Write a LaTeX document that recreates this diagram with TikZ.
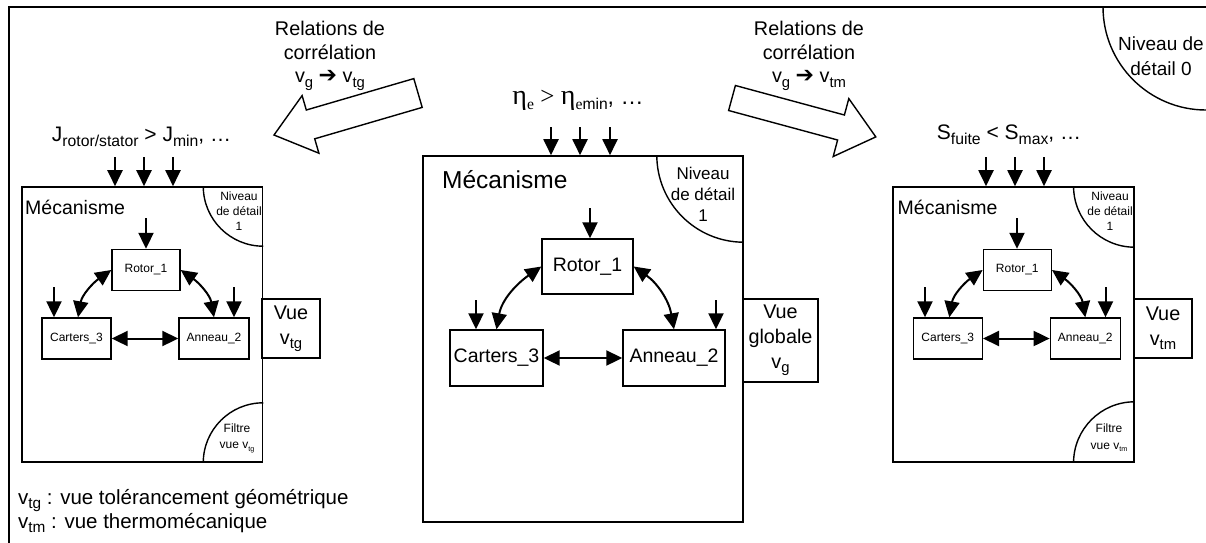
\documentclass[tikz,border=0pt]{standalone}
\usepackage{fontspec}
\setmainfont{Liberation Sans}
\newfontfamily\tms{Liberation Serif}
\newfontfamily\dvs{DejaVu Sans}
\usetikzlibrary{arrows.meta,calc}
\makeatletter
% lowered, reduced text for indices (v_tg, S_max, ...)
\newcommand\dn[2][0.75]{\raisebox{-0.22em}{\fontsize{\fpeval{#1*\f@size}}{0}\selectfont #2}}
\makeatother
\newcommand\fs[2]{\fontsize{#1}{#2}\selectfont}
\newcommand\etaglyph{{\tms\fs{28}{28}η}}
\newcommand\heavyarrow{{\dvs\bfseries\fs{22}{22}➔}}

\begin{document}
\begin{tikzpicture}[x=1pt,y=-1pt,
  frameline/.style={line width=2pt},
  bigbox/.style={draw,line width=1.6pt,inner sep=0pt},
  partbox/.style={draw,line width=1.4pt,inner sep=0pt},
  smallpart/.style={partbox,minimum height=41pt,font=\fs{12}{14}},
  largepart/.style={partbox,minimum height=55pt,font=\fs{19.5}{23}},
  viewbox/.style={draw,line width=1.4pt,inner sep=0pt,align=center,font=\fs{19.8}{25}},
  flow/.style={line width=2pt,-{Triangle[length=16pt,width=15pt]}},
  link/.style={line width=2pt,{Triangle[length=16pt,width=15pt]}-{Triangle[length=16pt,width=15pt]}},
  zone/.style={line width=1.4pt},
  blockarrow/.style={draw,line width=1.4pt,fill=white,line join=miter},
  txt/.style={inner sep=0pt,align=center},
  mec/.style={anchor=west,inner sep=0pt},
]
\useasboundingbox (0,0) rectangle (1206,542);
\clip (0,0) rectangle (1206,542);

% outer frame and level-0 corner
\draw[frameline] (9,560) |- (1220,7);
\draw[zone] (1103,7) arc[start angle=180,end angle=90,radius=103];
\node[txt,font=\fs{19}{25}] (lvl0) at (1161,56) {Niveau de\\détail 0};

% correlation arrows
\draw[blockarrow] (422.2,107.4) -- (314.7,138.8) -- (318.9,153.2) -- (274,135)
  -- (302.1,95.6) -- (306.3,110.0) -- (413.8,78.6) -- cycle;
\draw[blockarrow] (728.6,110.5) -- (837.6,140.0) -- (833.2,156.5) -- (875.8,136.9)
  -- (848.8,98.6) -- (844.4,115.0) -- (735.4,85.5) -- cycle;
\node[txt,font=\fs{19.8}{23.5}] (relL) at (330,56) {Relations de\\corrélation\\v\dn{g} \heavyarrow{} v\dn{tg}};
\node[txt,font=\fs{19.8}{23.5}] (relR) at (809,56) {Relations de\\corrélation\\v\dn{g} \heavyarrow{} v\dn{tm}};

% requirement labels
\node[txt,font=\fs{21}{23}] (Jlbl) at (141.5,137) {J\dn{rotor/stator} > J\dn{min}, …};
\node[txt,font=\fs{23}{25}] (etalbl) at (578,100) {\etaglyph\dn[0.68]{\tms e} {\tms\fs{25}{25}>} \etaglyph\dn[0.68]{{\tms e}min}, …};
\node[txt,font=\fs{21}{23}] (Slbl) at (1009,135) {S\dn{fuite} < S\dn{max}, …};

% ---------- mechanism boxes ----------
\node[bigbox,minimum width=240.5pt,minimum height=275pt] (L) at (142.2,324.5) {};
\node[bigbox,minimum width=320pt,minimum height=366pt] (C) at (583,339) {};
\node[bigbox,minimum width=240.5pt,minimum height=275pt] (R) at (1013.5,324.5) {};

\node[mec,font=\fs{19.5}{23}] (Lmec) at (25,207) {Mécanisme};
\node[mec,font=\fs{24.5}{28}] (Cmec) at (442,180) {Mécanisme};
\node[mec,font=\fs{19.5}{23}] (Rmec) at (897.5,207) {Mécanisme};

% detail-level and filter corners
\draw[zone] ($(L.north east)+(-60,0)$) arc[start angle=180,end angle=90,radius=60];
\draw[zone] ($(L.south east)+(-60,0)$) arc[start angle=180,end angle=270,radius=60];
\draw[zone] ($(C.north east)+(-87,0)$) arc[start angle=180,end angle=90,radius=87];
\draw[zone] ($(R.north east)+(-61,0)$) arc[start angle=180,end angle=90,radius=61];
\draw[zone] ($(R.south east)+(-61,0)$) arc[start angle=180,end angle=270,radius=61];
\node[txt,font=\fs{12}{15}] (Lniv) at (239,211) {Niveau\\de détail\\1};
\node[txt,font=\fs{12}{16.5}] (Lfil) at (237,438) {Filtre\\vue v\dn[0.6]{tg}};
\node[txt,font=\fs{17}{21}] (Cniv) at (703,194) {Niveau\\de détail\\1};
\node[txt,font=\fs{12}{15}] (Rniv) at (1110,211) {Niveau\\de détail\\1};
\node[txt,font=\fs{12}{16.5}] (Rfil) at (1109,438) {Filtre\\vue v\dn[0.6]{tm}};

% views
\node[viewbox,minimum width=58pt,minimum height=59pt] (Lv) at (291,328.5) {Vue\\v\dn{tg}};
\node[viewbox,minimum width=75pt,minimum height=83pt] (Cv) at (780.5,340.5) {Vue\\globale\\v\dn{g}};
\node[viewbox,minimum width=58pt,minimum height=59pt] (Rv) at (1163,328.5) {Vue\\v\dn{tm}};

% parts
\node[smallpart,minimum width=68pt] (L1) at (146,270) {Rotor\_1};
\node[smallpart,minimum width=69pt] (L3) at (76.5,338.5) {Carters\_3};
\node[smallpart,minimum width=70pt] (L2) at (214,338.5) {Anneau\_2};
\node[largepart,minimum width=91pt] (C1) at (587.5,266.5) {Rotor\_1};
\node[largepart,minimum width=93pt,minimum height=56pt] (C3) at (496.5,358) {Carters\_3};
\node[largepart,minimum width=102pt,minimum height=56pt] (C2) at (674,358) {Anneau\_2};
\node[smallpart,minimum width=68pt] (R1) at (1017.3,270) {Rotor\_1};
\node[smallpart,minimum width=69pt] (R3) at (947.8,338.5) {Carters\_3};
\node[smallpart,minimum width=70pt] (R2) at (1085.3,338.5) {Anneau\_2};

% links between parts
\draw[link] (L1.west) to[out=215,in=80] ([xshift=1.5pt]L3.north);
\draw[link] (L1.east) to[out=-35,in=100] (L2.north);
\draw[link] (L3.east) -- (L2.west);
\draw[link] (C1.west) to[out=215,in=80] (C3.north);
\draw[link] (C1.east) to[out=-35,in=100] (C2.north);
\draw[link] (C3.east) -- (C2.west);
\draw[link] (R1.west) to[out=215,in=80] ([xshift=1.5pt]R3.north);
\draw[link] (R1.east) to[out=-35,in=100] (R2.north);
\draw[link] (R3.east) -- (R2.west);

% inputs on parts
\coordinate (pL1) at (146,218);   \draw[flow] (pL1) -- (pL1 |- L1.north);
\coordinate (pL3) at (54,287);    \draw[flow] (pL3) -- (pL3 |- L3.north);
\coordinate (pL2) at (234,287);   \draw[flow] (pL2) -- (pL2 |- L2.north);
\coordinate (pC1) at (590,208);   \draw[flow] (pC1) -- (pC1 |- C1.north);
\coordinate (pC3) at (476,300);   \draw[flow] (pC3) -- (pC3 |- C3.north);
\coordinate (pC2) at (716,300);   \draw[flow] (pC2) -- (pC2 |- C2.north);
\coordinate (pR1) at (1017,218);  \draw[flow] (pR1) -- (pR1 |- R1.north);
\coordinate (pR3) at (925,287);   \draw[flow] (pR3) -- (pR3 |- R3.north);
\coordinate (pR2) at (1105.5,287);\draw[flow] (pR2) -- (pR2 |- R2.north);

% requirements entering each mechanism
\foreach \x [count=\i] in {115,144,173} {
  \coordinate (tL\i) at (\x,157); \draw[flow] (tL\i) -- (tL\i |- L.north);
}
\foreach \x [count=\i] in {551,580,610} {
  \coordinate (tC\i) at (\x,127); \draw[flow] (tC\i) -- (tC\i |- C.north);
}
\foreach \x [count=\i] in {986,1015,1044} {
  \coordinate (tR\i) at (\x,157); \draw[flow] (tR\i) -- (tR\i |- R.north);
}

% legend
\node[mec,align=left,font=\fs{20.5}{21.7}] (legend) at (18,511)
  {v\dn{tg} : vue tolérancement géométrique\\v\dn{tm} : vue thermomécanique};
\end{tikzpicture}
\end{document}
